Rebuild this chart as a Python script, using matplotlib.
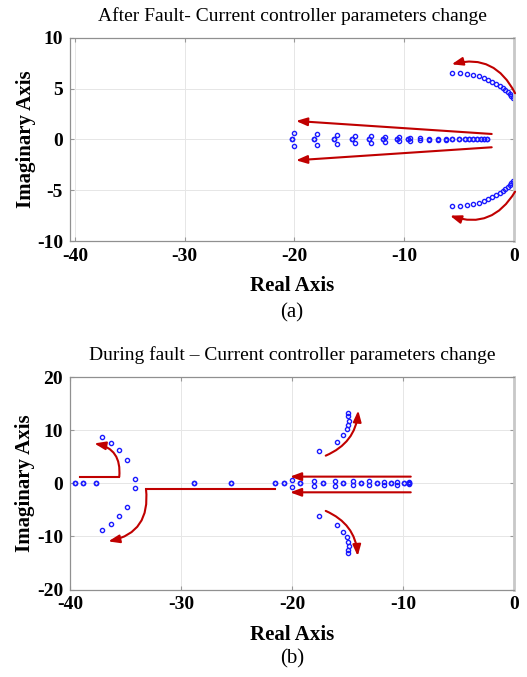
import numpy as np
import matplotlib
matplotlib.use("Agg")
import matplotlib.pyplot as plt
from matplotlib.patches import FancyArrowPatch

plt.rcParams['font.family'] = ['Liberation Serif', 'DejaVu Serif']

# ---- (a) after fault ----
a_title = "After Fault- Current controller parameters change"
a_real = [-20.2, -18.2, -16.37, -14.73, -13.24, -11.9, -10.63, -9.66]
a_pair_re = [-20.0, -17.98, -16.16, -14.52, -13.06, -11.72, -10.45, -9.48]
a_pair_im = [0.67, 0.51, 0.42, 0.35, 0.3, 0.25, 0.2, 0.15]
a_axis_re = [-8.57, -7.72, -6.95, -6.22, -5.62, -5.04, -4.49, -4.07, -3.71,
             -3.34, -3.03, -2.73, -2.43]
a_axis_im = [0.1, 0.08, 0.06, 0.05, 0.0, 0.0, 0.0, 0.0, 0.0, 0.0, 0.0, 0.0, 0.0]
a_arc_re = [-5.65, -4.95, -4.31, -3.74, -3.22, -2.76, -2.34, -1.98, -1.61,
            -1.30, -1.03, -0.79, -0.57, -0.39, -0.24, -0.09]
a_arc_im = [6.52, 6.55, 6.48, 6.35, 6.22, 6.06, 5.86, 5.67, 5.5, 5.3, 5.1,
            4.9, 4.7, 4.51, 4.32, 4.12]
# arrows: (start, end, curvature)
a_arrows = [((0.1, 4.55), (-5.68, 7.4), 0.4),
            ((0.1, -5.14), (-5.83, -7.5), -0.4),
            ((-2.03, 0.54), (-19.86, 1.82), 0.0),
            ((-2.03, -0.77), (-19.86, -2.05), 0.0)]

# ---- (b) during fault ----
b_title = "During fault \u2013 Current controller parameters change"
b_real = [-39.55, -38.8, -37.7, -28.83, -25.5, -21.5, -20.75, -19.25, -17.24,
          -15.41, -13.81, -12.37, -11.08, -9.94, -9.49]
b_pair_re = [-20.0, -17.99, -16.13, -14.5, -13.06, -11.74, -10.54, -9.49]
b_pair_im = [0.62, 0.5, 0.45, 0.4, 0.35, 0.3, 0.25, 0.15]
b_left_re = [-37.09, -36.33, -35.61, -34.9, -34.12]
b_left_im = [8.8, 7.6, 6.2, 4.45, 0.87]
b_right_re = [-17.54, -15.95, -15.41, -15.08, -14.96, -14.9, -14.93, -14.99]
b_right_im = [6.1, 7.85, 9.17, 10.2, 11.0, 11.8, 12.57, 13.2]
b_lines = [((-39.1, 1.25), (-35.56, 1.25)),
           ((-21.5, -1.13), (-33.15, -1.13))]
b_arrows = [((-16.96, 5.2), (-14.03, 13.7), 0.3),
            ((-16.96, -5.2), (-14.08, -13.7), -0.3),
            ((-9.3, 1.25), (-20.18, 1.25), 0.0),
            ((-9.3, -1.7), (-20.18, -1.7), 0.0),
            ((-35.56, 1.25), (-37.81, 7.5), 0.45),
            ((-33.15, -1.13), (-36.55, -10.94), -0.45)]

red = '#c00000'
blue = '#1a1aff'
mk = dict(ls='none', marker='o', mfc='none', mec=blue, ms=3.0, mew=1.0)


def pts(ax, re, im):
    re = np.asarray(re)
    im = np.asarray(im)
    ax.plot(re, im, **mk)
    ax.plot(re, -im, **mk)


def arrows(ax, lst):
    for a, b, r in lst:
        p = FancyArrowPatch(a, b, arrowstyle='-|>,head_length=0.6,head_width=0.22',
                            mutation_scale=11, color=red, lw=1.5, shrinkA=0, shrinkB=0,
                            connectionstyle='arc3,rad=%g' % r, clip_on=False, zorder=4)
        ax.add_patch(p)


def style(ax, title, xlim, ylim, yticks):
    ax.set_xlim(*xlim)
    ax.set_ylim(*ylim)
    ax.set_xticks([-40, -30, -20, -10, 0])
    ax.set_xticklabels(['-40', '-30', '-20', '-10', '0'])
    ax.set_yticks(yticks)
    ax.set_yticklabels([str(t) for t in yticks])
    ax.grid(True, color='#e6e6e6', lw=0.7)
    ax.set_axisbelow(True)
    ax.tick_params(direction='in', top=True, right=True, length=3, color='#999999',
                   labelsize=14, pad=5)
    for t in ax.get_xticklabels() + ax.get_yticklabels():
        t.set_fontweight('bold')
    for s in ax.spines.values():
        s.set_color('#909090')
        s.set_linewidth(0.9)
    ax.spines['right'].set_color('#c8c8c8')
    ax.spines['right'].set_linewidth(2)
    ax.set_title(title, fontsize=14, pad=12)
    ax.set_xlabel('Real Axis', fontsize=15, fontweight='bold', labelpad=8)
    ax.set_ylabel('Imaginary Axis', fontsize=15, fontweight='bold', labelpad=1)


fig = plt.figure(figsize=(5.27, 6.77), dpi=100)
ax1 = fig.add_axes([0.1328, 0.644, 0.8425, 0.30])
ax2 = fig.add_axes([0.1328, 0.1292, 0.8425, 0.3139])

pts(ax1, a_real, np.zeros(len(a_real)))
pts(ax1, a_pair_re, a_pair_im)
pts(ax1, a_axis_re, a_axis_im)
pts(ax1, a_arc_re, a_arc_im)
arrows(ax1, a_arrows)
style(ax1, a_title, (-40.45, 0), (-10, 10), [-10, -5, 0, 5, 10])

pts(ax2, b_real, np.zeros(len(b_real)))
pts(ax2, b_pair_re, b_pair_im)
pts(ax2, b_left_re, b_left_im)
pts(ax2, b_right_re, b_right_im)
for a, b in b_lines:
    ax2.plot([a[0], b[0]], [a[1], b[1]], color=red, lw=1.5, zorder=4)
arrows(ax2, b_arrows)
style(ax2, b_title, (-40, 0), (-20, 20), [-20, -10, 0, 10, 20])

fig.text(0.554, 0.538, '(a)', ha='center', va='center', fontsize=15)
fig.text(0.554, 0.027, '(b)', ha='center', va='center', fontsize=15)

fig.savefig('out.png', dpi=100)
